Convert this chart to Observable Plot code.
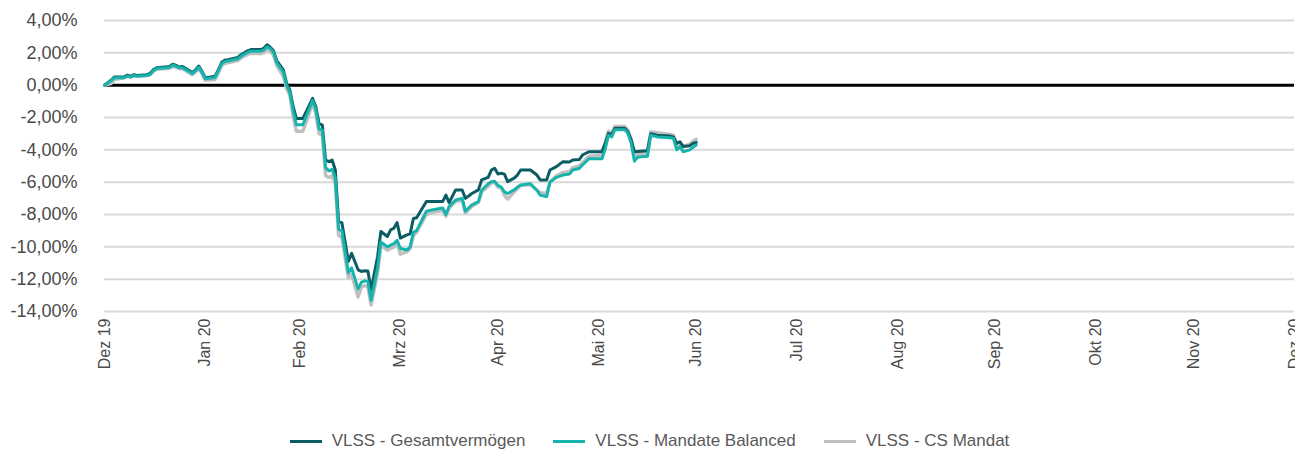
<!DOCTYPE html>
<html>
<head>
<meta charset="utf-8">
<script src="https://cdn.jsdelivr.net/npm/d3@7"></script>
<script src="https://cdn.jsdelivr.net/npm/@observablehq/plot@0.6"></script>
<style>
  body { margin: 0; background: #fff; font-family: "Liberation Sans", Arial, sans-serif; }
  #legend { display: flex; justify-content: center; align-items: center; height: 26px; font-size: 17px; color: #595959; padding-left: 4px; }
  .item { display: flex; align-items: center; margin: 0 14px; white-space: nowrap; }
  .sw { width: 32px; height: 3px; margin-right: 10px; }
</style>
</head>
<body>
<div id="chart"></div>
<div id="legend"></div>
<script>
// ---- Data (daily values, in %) ----
const dates = [
  // Dez / Jan
  "2019-12-31","2020-01-02","2020-01-03","2020-01-06","2020-01-07","2020-01-08","2020-01-09","2020-01-10",
  "2020-01-13","2020-01-14","2020-01-15","2020-01-16","2020-01-17","2020-01-20","2020-01-21","2020-01-22",
  "2020-01-23","2020-01-24","2020-01-27","2020-01-28","2020-01-29","2020-01-30","2020-01-31",
  // Feb
  "2020-02-03","2020-02-04","2020-02-05","2020-02-06","2020-02-07","2020-02-10","2020-02-11","2020-02-12",
  "2020-02-13","2020-02-14","2020-02-17","2020-02-18","2020-02-19","2020-02-20","2020-02-21","2020-02-22",
  "2020-02-24","2020-02-25","2020-02-26","2020-02-27","2020-02-28",
  // Mar
  "2020-03-01","2020-03-02","2020-03-04","2020-03-05","2020-03-06","2020-03-07","2020-03-08","2020-03-09",
  "2020-03-10","2020-03-11","2020-03-12","2020-03-13","2020-03-15","2020-03-16","2020-03-18","2020-03-19",
  "2020-03-20","2020-03-21","2020-03-22","2020-03-24","2020-03-25","2020-03-27","2020-03-28","2020-03-29",
  "2020-03-30","2020-03-31",
  // Apr
  "2020-04-02","2020-04-03","2020-04-04","2020-04-05","2020-04-08","2020-04-10","2020-04-13","2020-04-14",
  "2020-04-15","2020-04-17","2020-04-19","2020-04-20","2020-04-22","2020-04-24","2020-04-25","2020-04-27",
  "2020-04-28","2020-04-29","2020-04-30",
  // Mai
  "2020-05-01","2020-05-02","2020-05-03","2020-05-05","2020-05-06","2020-05-07","2020-05-10","2020-05-12",
  "2020-05-13","2020-05-15","2020-05-16","2020-05-18","2020-05-20","2020-05-22","2020-05-23","2020-05-25",
  "2020-05-26","2020-05-28","2020-05-31",
  // Jun
  "2020-06-01","2020-06-02","2020-06-03","2020-06-04","2020-06-05","2020-06-08","2020-06-09","2020-06-10",
  "2020-06-11","2020-06-12","2020-06-15","2020-06-16","2020-06-18","2020-06-22","2020-06-23","2020-06-24",
  "2020-06-25","2020-06-26","2020-06-28","2020-06-29","2020-06-30"
];

const gesamt = [
  0, 0.3, 0.5, 0.5, 0.62, 0.55, 0.65, 0.6, 0.65, 0.72, 0.95, 1.08, 1.1, 1.15, 1.3, 1.22, 1.12, 1.15, 0.78, 0.95, 1.18, 0.85, 0.45,
  0.55, 0.95, 1.4, 1.55, 1.58, 1.72, 1.88, 2.0, 2.12, 2.2, 2.2, 2.28, 2.5, 2.35, 2.12, 1.5, 0.95, 0.12, -0.3, -1.3, -2.06,
  -2.06, -1.65, -0.82, -1.34, -2.37, -2.47, -4.63, -4.73, -4.63, -5.25, -8.44, -8.5, -10.9, -10.4, -11.42, -11.52, -11.48, -11.5, -12.65, -10.6, -9.05, -9.36, -8.95, -8.85, -8.5, -9.46,
  -9.26, -9.2, -8.25, -8.2, -7.2, -7.2, -7.2, -6.8, -7.26, -6.48, -6.48, -7.0, -6.7, -6.48, -5.86, -5.7, -5.25, -5.14, -5.5,
  -5.45, -5.5, -5.97, -5.75, -5.56, -5.25, -5.25, -5.56, -5.86, -5.86, -5.25, -5.04, -4.73, -4.75, -4.63, -4.6, -4.32, -4.12, -4.12,
  -4.1, -3.6, -2.98, -3.05, -2.67, -2.67, -2.9, -3.4, -4.12, -4.1, -4.05, -3.0, -3.1, -3.15, -3.2, -3.6, -3.5, -3.8, -3.75, -3.6, -3.55
];

const balanced = [
  0, 0.27, 0.46, 0.46, 0.57, 0.5, 0.6, 0.55, 0.6, 0.66, 0.89, 1.03, 1.05, 1.1, 1.24, 1.17, 1.07, 1.08, 0.72, 0.89, 1.11, 0.79, 0.39,
  0.48, 0.88, 1.33, 1.46, 1.49, 1.63, 1.79, 1.92, 2.02, 2.1, 2.1, 2.17, 2.38, 2.26, 2.02, 1.38, 0.8, 0.0, -0.45, -1.55, -2.45,
  -2.45, -1.95, -0.95, -1.5, -2.7, -2.8, -5.1, -5.3, -5.2, -5.75, -8.9, -9.0, -11.6, -11.3, -12.6, -12.2, -12.1, -12.15, -13.3, -11.3, -9.7, -10.0, -9.9, -9.8, -9.6, -10.1,
  -10.2, -10.0, -9.1, -9.0, -7.8, -7.7, -7.6, -8.0, -7.5, -7.1, -7.0, -7.8, -7.4, -7.2, -6.5, -6.1, -5.97, -5.95, -6.2,
  -6.3, -6.6, -6.7, -6.48, -6.3, -6.17, -6.1, -6.5, -6.8, -6.9, -6.0, -5.7, -5.56, -5.5, -5.25, -5.15, -4.94, -4.55, -4.55,
  -4.55, -3.95, -3.1, -3.2, -2.75, -2.75, -3.0, -3.6, -4.7, -4.45, -4.4, -3.1, -3.2, -3.25, -3.3, -4.0, -3.8, -4.12, -4.0, -3.85, -3.7
];

const csMandat = [
  0, 0.1, 0.35, 0.45, 0.55, 0.5, 0.58, 0.55, 0.6, 0.65, 0.85, 0.98, 1.0, 1.05, 1.15, 1.1, 1.02, 1.02, 0.65, 0.82, 1.02, 0.7, 0.3,
  0.35, 0.75, 1.2, 1.35, 1.38, 1.52, 1.68, 1.8, 1.9, 1.98, 1.95, 2.02, 2.22, 2.1, 1.85, 1.2, 0.55, -0.2, -0.6, -1.9, -2.85,
  -2.85, -2.3, -1.1, -1.75, -3.0, -3.1, -5.6, -5.7, -5.6, -6.1, -9.3, -9.4, -11.9, -11.7, -13.1, -12.5, -12.4, -12.45, -13.6, -11.6, -9.9, -10.2, -10.1, -10.0, -9.8, -10.45,
  -10.3, -10.1, -9.3, -9.1, -8.0, -7.85, -7.75, -8.1, -7.6, -7.2, -7.1, -7.9, -7.5, -7.25, -6.6, -6.25, -6.05, -6.0, -6.3,
  -6.35, -6.8, -7.05, -6.6, -6.4, -6.2, -6.15, -6.5, -6.65, -6.7, -6.0, -5.6, -5.4, -5.35, -5.1, -5.0, -4.8, -4.4, -4.35,
  -4.3, -3.6, -2.85, -2.95, -2.55, -2.55, -2.8, -3.35, -4.55, -4.25, -4.2, -2.9, -2.95, -3.05, -3.1, -3.7, -3.55, -3.8, -3.65, -3.45, -3.35
];

const seriesNames = ["VLSS - Gesamtvermögen", "VLSS - Mandate Balanced", "VLSS - CS Mandat"];
const seriesColors = ["#0c5d63", "#16b4ad", "#c0c0c0"];
const yTicks = [4, 2, 0, -2, -4, -6, -8, -10, -12, -14];
const monthEnds = ["2019-12-31","2020-01-31","2020-02-29","2020-03-31","2020-04-30","2020-05-31","2020-06-30",
                   "2020-07-31","2020-08-31","2020-09-30","2020-10-31","2020-11-30","2020-12-31"];
const monthLabels = ["Dez 19","Jan 20","Feb 20","Mrz 20","Apr 20","Mai 20","Jun 20",
                     "Jul 20","Aug 20","Sep 20","Okt 20","Nov 20","Dez 20"];

// ---- Build table ----
const seriesValues = [gesamt, balanced, csMandat];
const rows = [];
seriesValues.forEach((vals, s) => {
  dates.forEach((d, i) => rows.push({ date: new Date(d), value: vals[i], s }));
});

const fmtPct = v => (v < 0 ? "-" : "") + Math.abs(v).toFixed(2).replace(".", ",") + "%";
const tickDates = monthEnds.map(d => new Date(d));
const fmtMonth = d => monthLabels[tickDates.findIndex(t => +t === +d)];

// bottom -> top drawing order
const drawOrder = [2, 0, 1];

const chart = Plot.plot({
  width: 1295,
  height: 428,
  marginLeft: 104,
  marginRight: 1,
  marginTop: 20,
  marginBottom: 117,
  style: { fontFamily: "'Liberation Sans', Arial, sans-serif", color: "#4a4a4a", background: "#fff", overflow: "visible" },
  x: { type: "utc", domain: [tickDates[0], tickDates[tickDates.length - 1]] },
  y: { domain: [-14, 4] },
  marks: [
    Plot.ruleY(yTicks.filter(v => v !== 0), { stroke: "#d9d9d9", strokeWidth: 2 }),
    Plot.ruleY([0], { stroke: "#000", strokeWidth: 3 }),
    ...drawOrder.map(s => Plot.lineY(rows.filter(r => r.s === s), {
      x: "date", y: "value", stroke: seriesColors[s], strokeWidth: s === 2 ? 3.5 : 3, strokeLinejoin: "round"
    })),
    Plot.axisY({ ticks: yTicks, tickSize: 0, tickPadding: 27, tickFormat: fmtPct, fontSize: 18, label: null }),
    Plot.axisX({ ticks: tickDates, tickFormat: fmtMonth, tickRotate: -90, tickSize: 0, tickPadding: 7, fontSize: 16, label: null })
  ]
});
document.getElementById("chart").appendChild(chart);

// ---- Legend ----
const legend = document.getElementById("legend");
seriesNames.forEach((name, i) => {
  const item = document.createElement("div");
  item.className = "item";
  const sw = document.createElement("span");
  sw.className = "sw";
  sw.style.background = seriesColors[i];
  const label = document.createElement("span");
  label.textContent = name;
  item.appendChild(sw);
  item.appendChild(label);
  legend.appendChild(item);
});
</script>
</body>
</html>
